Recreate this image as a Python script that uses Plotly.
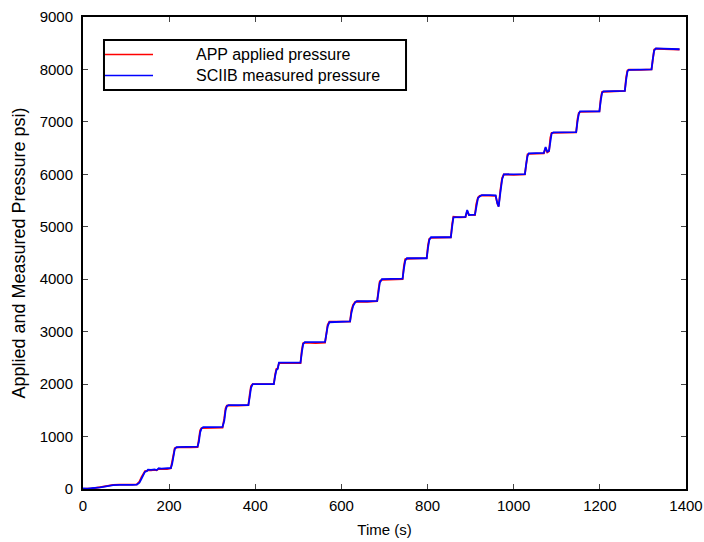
import plotly.graph_objects as go

# Time (s)
time_s = [0, 10, 20, 30, 40, 50, 60, 70, 85, 100, 115, 125, 131, 136, 140, 144, 148, 151, 158, 166, 171, 176, 182, 195,
          204, 207, 210, 213, 217, 230, 250, 266, 269, 272, 275, 279, 300, 324, 328, 331, 334, 338, 360, 384, 387, 390,
          394, 420, 443, 446, 449, 452, 455, 480, 505, 508, 511, 515, 540, 562, 565, 568, 572, 595, 620, 623, 627, 632,
          636, 660, 683, 686, 689, 694, 720, 742, 745, 748, 752, 775, 798, 801, 804, 808, 830, 854, 857, 860, 875, 888,
          892, 896, 910, 913, 917, 921, 926, 945, 958, 962, 965, 969, 973, 977, 1000, 1026, 1029, 1032, 1035, 1055,
          1070, 1074, 1078, 1082, 1085, 1088, 1092, 1120, 1145, 1148, 1151, 1154, 1180, 1199, 1202, 1205, 1208, 1235,
          1258, 1261, 1264, 1267, 1295, 1320, 1323, 1326, 1330, 1345, 1370, 1385]

# SCIIB measured pressure (psi)
measured_psi = [10, 5, 15, 20, 30, 45, 60, 75, 80, 75, 78, 85, 120, 200, 280, 330, 340, 370, 365, 372, 360, 395, 390, 392,
                400, 480, 650, 760, 800, 805, 805, 808, 900, 1080, 1150, 1180, 1180, 1185, 1300, 1500, 1580, 1600, 1600,
                1600, 1750, 1930, 2000, 2000, 2000, 2150, 2270, 2290, 2410, 2410, 2410, 2600, 2760, 2800, 2805, 2805,
                2950, 3100, 3180, 3190, 3195, 3350, 3490, 3560, 3580, 3580, 3585, 3750, 3930, 4000, 4005, 4010, 4200,
                4350, 4400, 4400, 4400, 4600, 4750, 4800, 4800, 4800, 5000, 5180, 5185, 5190, 5320, 5225, 5230, 5400,
                5545, 5580, 5605, 5605, 5600, 5450, 5385, 5650, 5900, 6000, 6000, 6005, 6200, 6350, 6400, 6400, 6410,
                6520, 6430, 6450, 6650, 6780, 6800, 6800, 6805, 7000, 7150, 7200, 7200, 7200, 7400, 7550, 7580, 7585,
                7590, 7800, 7960, 7990, 8000, 8000, 8200, 8360, 8400, 8395, 8390, 8385]

# APP applied pressure (psi)
applied_psi = [0, 0, 10, 20, 35, 50, 70, 80, 85, 80, 82, 90, 140, 230, 300, 340, 345, 360, 355, 365, 355, 385, 380, 380,
               395, 520, 690, 780, 790, 800, 795, 800, 950, 1120, 1160, 1160, 1165, 1170, 1350, 1540, 1590, 1595, 1590,
               1600, 1800, 1960, 2000, 1995, 2000, 2180, 2290, 2300, 2400, 2400, 2400, 2650, 2780, 2790, 2780, 2790,
               3000, 3130, 3190, 3185, 3190, 3400, 3510, 3570, 3575, 3570, 3580, 3800, 3960, 3990, 4000, 4000, 4250,
               4380, 4390, 4395, 4400, 4650, 4770, 4790, 4795, 4800, 5050, 5190, 5180, 5185, 5300, 5230, 5225, 5430,
               5560, 5590, 5600, 5600, 5590, 5440, 5390, 5700, 5930, 6000, 5990, 6000, 6250, 6380, 6390, 6400, 6400,
               6500, 6420, 6440, 6700, 6790, 6790, 6800, 6800, 7050, 7170, 7190, 7190, 7200, 7450, 7570, 7575, 7580,
               7590, 7850, 7980, 7995, 7990, 8000, 8250, 8380, 8395, 8390, 8385, 8380]

series_names = ["APP applied pressure", "SCIIB measured pressure"]
series_colors = ["#ff0000", "#0000ff"]

x_ticks = [0, 200, 400, 600, 800, 1000, 1200, 1400]
y_ticks = [0, 1000, 2000, 3000, 4000, 5000, 6000, 7000, 8000, 9000]

font_family = "Liberation Sans, Arial, sans-serif"

fig = go.Figure()
for name, yvals, color in zip(series_names, [applied_psi, measured_psi], series_colors):
    fig.add_trace(go.Scatter(x=time_s, y=yvals, mode="lines", name=name,
                             line=dict(color=color, width=1.8), showlegend=False))

axis_common = dict(showline=True, linecolor="black", linewidth=2, mirror="ticks", ticks="inside",
                   ticklen=5, tickwidth=1, tickcolor="#444", showgrid=False, zeroline=False,
                   automargin=False,
                   tickfont=dict(family=font_family, size=15, color="black"))

fig.update_xaxes(range=[0, 1400], tickvals=x_ticks, ticktext=[str(v) for v in x_ticks],
                 ticklabelstandoff=2,
                 title=dict(text="Time (s)", font=dict(family=font_family, size=15, color="black"), standoff=11),
                 **axis_common)
fig.update_yaxes(range=[0, 9000], tickvals=y_ticks, ticktext=[str(v) for v in y_ticks],
                 ticklabelstandoff=5,
                 title=dict(text="Applied and Measured Pressure psi)",
                            font=dict(family=font_family, size=18, color="black"), standoff=9),
                 **axis_common)

# Legend box drawn in paper coordinates
legend_x0, legend_x1 = 0.0348, 0.5357
legend_y0, legend_y1 = 0.8453, 0.9513
line_x0, line_x1 = 0.0365, 0.1161
row_y = [0.9205, 0.8761]
text_x = 0.1841

shapes = [dict(type="rect", xref="paper", yref="paper", x0=legend_x0, x1=legend_x1, y0=legend_y0, y1=legend_y1,
               line=dict(color="black", width=2), fillcolor="white", layer="above")]
annotations = []
for name, color, ry in zip(series_names, series_colors, row_y):
    shapes.append(dict(type="line", xref="paper", yref="paper", x0=line_x0, x1=line_x1, y0=ry, y1=ry,
                       line=dict(color=color, width=1.6), layer="above"))
    annotations.append(dict(xref="paper", yref="paper", x=text_x, y=ry, xanchor="left", yanchor="middle",
                            text=name, showarrow=False,
                            font=dict(family=font_family, size=16, color="black")))

fig.update_layout(
    width=704, height=542,
    margin=dict(l=83, r=18, t=17, b=53),
    plot_bgcolor="white", paper_bgcolor="white",
    shapes=shapes, annotations=annotations,
)

fig.write_html("out.html")
